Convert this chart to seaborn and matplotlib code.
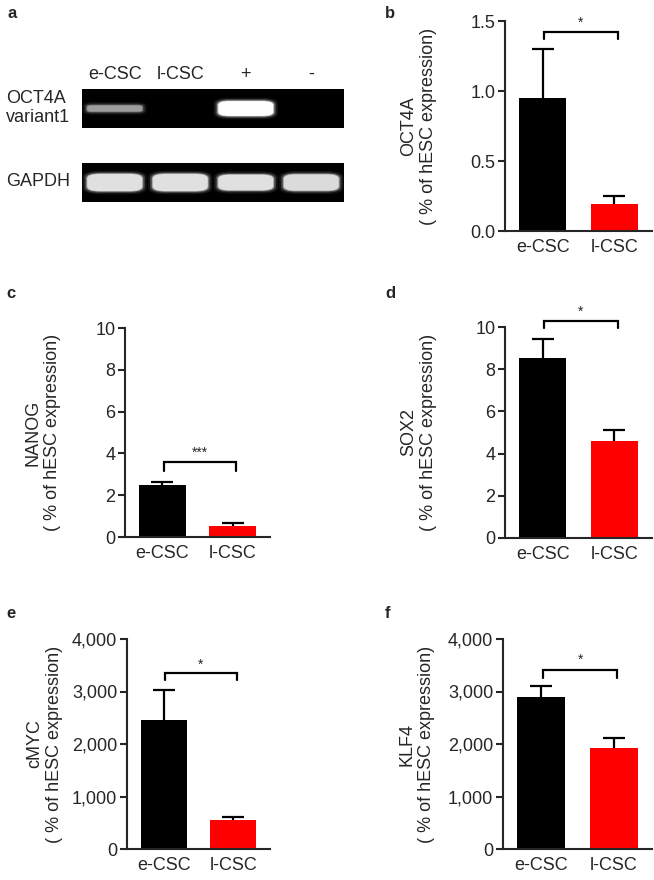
import numpy as np
import pandas as pd
import matplotlib
matplotlib.use("Agg")
import matplotlib.pyplot as plt
from matplotlib.patches import FancyBboxPatch
from matplotlib.ticker import FuncFormatter
import seaborn as sns

# ---- data ----
groups = ["e-CSC", "l-CSC"]
bar_colors = ["#000000", "#ff0000"]

oct4a_mean = [0.95, 0.19]
oct4a_sem = [0.35, 0.06]
nanog_mean = [2.51, 0.53]
nanog_sem = [0.10, 0.12]
sox2_mean = [8.53, 4.61]
sox2_sem = [0.92, 0.51]
cmyc_mean = [2460, 545]
cmyc_sem = [560, 65]
klf4_mean = [2895, 1930]
klf4_sem = [205, 185]

# significance bracket level, drop and label per panel
sig_labels = ["*", "***", "*", "*", "*"]
sig_levels = [1.42, 3.58, 10.27, 3347, 3416]
sig_drops = [0.05, 0.40, 0.32, 127, 160]

# gel lanes and relative band brightness
gel_lanes = ["e-CSC", "l-CSC", "+", "-"]
oct4a_band = [0.62, 0.0, 1.0, 0.0]
oct4a_band_h = [0.16, 0.0, 0.38, 0.0]
gapdh_band = [0.88, 0.88, 0.88, 0.86]
gapdh_band_h = [0.44, 0.44, 0.40, 0.42]

W, H = 654, 880
sns.set_style("ticks")
plt.rcParams["font.family"] = ["Liberation Sans", "DejaVu Sans"]
plt.rcParams["axes.linewidth"] = 1.5

fig = plt.figure(figsize=(W / 100, H / 100), dpi=100)


def px_axes(x0, y0, x1, y1):
    return fig.add_axes([x0 / W, 1 - y1 / H, (x1 - x0) / W, (y1 - y0) / H])


def draw_gel(ax, levels, heights):
    ax.set_facecolor("black")
    ax.set_xlim(-0.5, len(gel_lanes) - 0.5)
    ax.set_ylim(0, 1)
    for i, (lv, hh) in enumerate(zip(levels, heights)):
        if lv <= 0:
            continue
        # soft glow then core
        for grow, a, shade in [(0.14, 0.15, 0.6), (0.08, 0.35, 0.7), (0.03, 0.7, 0.85), (0.0, 1.0, 1.0)]:
            w = 0.84 + grow
            h = hh + grow * 1.2
            g = lv * shade
            ax.add_patch(FancyBboxPatch(
                (i - w / 2, 0.5 - h / 2), w, h,
                boxstyle=f"round,pad=0,rounding_size={min(h, w) / 2 * 0.9}",
                mutation_aspect=0.6,
                facecolor=(g, g, g), edgecolor="none", alpha=a))
    ax.set_xticks([])
    ax.set_yticks([])
    for s in ax.spines.values():
        s.set_visible(False)


# ---- panel a: gel ----
ax_top = px_axes(82, 89, 344, 128)
draw_gel(ax_top, oct4a_band, oct4a_band_h)
ax_bot = px_axes(82, 163, 344, 202)
draw_gel(ax_bot, gapdh_band, gapdh_band_h)
for i, lane in enumerate(gel_lanes):
    ax_top.text(i, 1.15, lane, ha="center", va="bottom", fontsize=13,
                transform=ax_top.get_xaxis_transform())
fig.text(6 / W, 1 - 108 / H, "OCT4A\nvariant1", ha="left", va="center",
         fontsize=13, linespacing=1.15)
fig.text(6 / W, 1 - 182 / H, "GAPDH", ha="left", va="center", fontsize=13)
fig.text(8 / W, 1 - 14 / H, "a", ha="left", va="center", fontsize=12, fontweight="bold")

# ---- bar panels ----
panels = [
    ("b", "OCT4A", oct4a_mean, oct4a_sem, [0, 0.5, 1.0, 1.5], "{:.1f}", (505, 21, 652, 231), (385, 14)),
    ("c", "NANOG", nanog_mean, nanog_sem, [0, 2, 4, 6, 8, 10], "{:.0f}", (125, 328, 270, 537), (6, 294)),
    ("d", "SOX2", sox2_mean, sox2_sem, [0, 2, 4, 6, 8, 10], "{:.0f}", (505, 327, 652, 538), (385, 294)),
    ("e", "cMYC", cmyc_mean, cmyc_sem, [0, 1000, 2000, 3000, 4000], "{:,.0f}", (127, 639, 270, 849), (6, 613)),
    ("f", "KLF4", klf4_mean, klf4_sem, [0, 1000, 2000, 3000, 4000], "{:,.0f}", (503, 639, 652, 849), (385, 613)),
]

for k, (letter, gene, mean, sem, ticks, fmt, box, lpos) in enumerate(panels):
    ax = px_axes(*box)
    df = pd.DataFrame({"group": groups, "value": mean})
    sns.barplot(data=df, x="group", y="value", hue="group", palette=bar_colors,
                width=0.66, saturation=1, errorbar=None, legend=False, ax=ax,
                edgecolor="none")
    xs = np.arange(len(groups))
    _, caps, _ = ax.errorbar(xs, mean, yerr=[np.zeros(len(sem)), sem], fmt="none",
                             ecolor="black", elinewidth=1.6, capsize=8, capthick=1.6,
                             zorder=1)
    caps[0].set_visible(False)

    # significance bracket
    lvl, drop = sig_levels[k], sig_drops[k]
    ax.plot([0.02, 0.02, 1.05, 1.05], [lvl - drop, lvl, lvl, lvl - drop],
            color="black", lw=1.6, clip_on=False, solid_joinstyle="miter")
    ax.text(0.535, lvl + drop * 0.3, sig_labels[k], ha="center", va="bottom",
            fontsize=10, clip_on=False)

    ax.set_xlim(-0.53, 1.53)
    ax.set_ylim(0, ticks[-1])
    ax.set_yticks(ticks)
    ax.yaxis.set_major_formatter(FuncFormatter(lambda v, p, f=fmt: f.format(v)))
    sns.despine(ax=ax)
    ax.tick_params(axis="y", length=5, width=1.5, labelsize=13, pad=2)
    ax.tick_params(axis="x", length=0, labelsize=13, pad=6)
    ax.set_xlabel("")
    ax.set_ylabel(f"{gene}\n( % of hESC expression)", fontsize=13)
    off = 64 if box[0] < 300 else 68
    ax.yaxis.set_label_coords(-off / (box[2] - box[0]), 0.5)
    fig.text(lpos[0] / W, 1 - lpos[1] / H, letter, ha="left", va="center",
             fontsize=12, fontweight="bold")

fig.savefig("out.png", dpi=100)
